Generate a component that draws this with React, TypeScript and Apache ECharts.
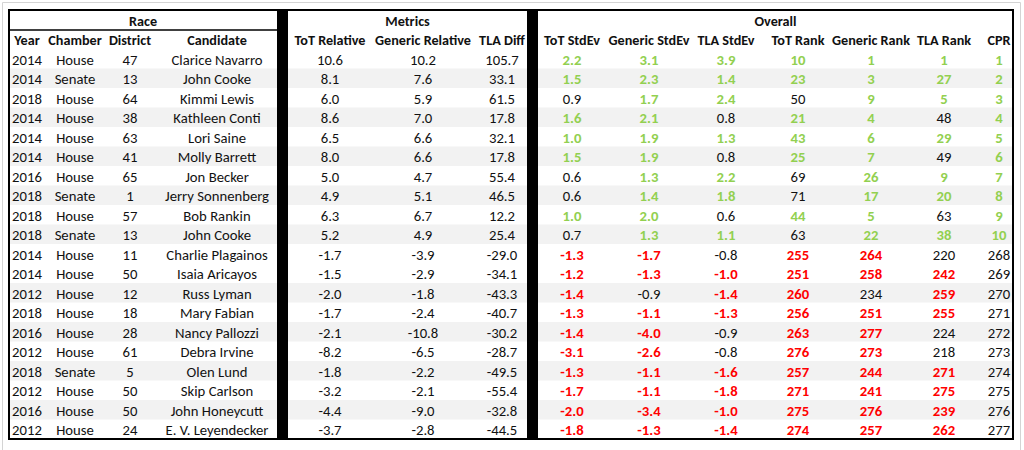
import React, { useEffect, useRef } from "react";
import * as echarts from "echarts";

// ---------- data ----------
const groups = ["Race", "Metrics", "Overall"];
const columns = [
  "Year", "Chamber", "District", "Candidate",
  "ToT Relative", "Generic Relative", "TLA Diff",
  "ToT StdEv", "Generic StdEv", "TLA StdEv", "ToT Rank", "Generic Rank", "TLA Rank", "CPR",
];
const years = [2014, 2014, 2018, 2014, 2014, 2014, 2016, 2018, 2018, 2018, 2014, 2014, 2012, 2018, 2016, 2012, 2018, 2012, 2016, 2012];
const chambers = ["House", "Senate", "House", "House", "House", "House", "House", "Senate", "House", "Senate", "House", "House", "House", "House", "House", "House", "Senate", "House", "House", "House"];
const districts = [47, 13, 64, 38, 63, 41, 65, 1, 57, 13, 11, 50, 12, 18, 28, 61, 5, 50, 50, 24];
const candidates = [
  "Clarice Navarro", "John Cooke", "Kimmi Lewis", "Kathleen Conti", "Lori Saine", "Molly Barrett", "Jon Becker",
  "Jerry Sonnenberg", "Bob Rankin", "John Cooke", "Charlie Plagainos", "Isaia Aricayos", "Russ Lyman", "Mary Fabian",
  "Nancy Pallozzi", "Debra Irvine", "Olen Lund", "Skip Carlson", "John Honeycutt", "E. V. Leyendecker",
];
const totRelative = [10.6, 8.1, 6.0, 8.6, 6.5, 8.0, 5.0, 4.9, 6.3, 5.2, -1.7, -1.5, -2.0, -1.7, -2.1, -8.2, -1.8, -3.2, -4.4, -3.7];
const genericRelative = [10.2, 7.6, 5.9, 7.0, 6.6, 6.6, 4.7, 5.1, 6.7, 4.9, -3.9, -2.9, -1.8, -2.4, -10.8, -6.5, -2.2, -2.1, -9.0, -2.8];
const tlaDiff = [105.7, 33.1, 61.5, 17.8, 32.1, 17.8, 55.4, 46.5, 12.2, 25.4, -29.0, -34.1, -43.3, -40.7, -30.2, -28.7, -49.5, -55.4, -32.8, -44.5];
const totStdev = [2.2, 1.5, 0.9, 1.6, 1.0, 1.5, 0.6, 0.6, 1.0, 0.7, -1.3, -1.2, -1.4, -1.3, -1.4, -3.1, -1.3, -1.7, -2.0, -1.8];
const genericStdev = [3.1, 2.3, 1.7, 2.1, 1.9, 1.9, 1.3, 1.4, 2.0, 1.3, -1.7, -1.3, -0.9, -1.1, -4.0, -2.6, -1.1, -1.1, -3.4, -1.3];
const tlaStdev = [3.9, 1.4, 2.4, 0.8, 1.3, 0.8, 2.2, 1.8, 0.6, 1.1, -0.8, -1.0, -1.4, -1.3, -0.9, -0.8, -1.6, -1.8, -1.0, -1.4];
const totRank = [10, 23, 50, 21, 43, 25, 69, 71, 44, 63, 255, 251, 260, 256, 263, 276, 257, 271, 275, 274];
const genericRank = [1, 3, 9, 4, 6, 7, 26, 17, 5, 22, 264, 258, 234, 251, 277, 273, 244, 241, 276, 257];
const tlaRank = [1, 27, 5, 48, 29, 49, 9, 20, 63, 38, 220, 242, 259, 255, 224, 218, 271, 275, 239, 262];
const cpr = [1, 2, 3, 4, 5, 6, 7, 8, 9, 10, 268, 269, 270, 271, 272, 273, 274, 275, 276, 277];
const shadedRows = [1, 3, 5, 7, 9, 12, 14, 16, 18];

// ---------- layout / style ----------
const FONT = "Carlito, Lato, 'Noto Sans', sans-serif";
const BODY_SIZE = 14.7;
const HEAD_SIZE = 14.2;
const TABLE = { left: 9, top: 10, right: 1013, bottom: 439 };
const GROUP_SPANS = [[9, 277], [288, 527], [538, 1013]];
const BARS = [[277, 288], [527, 538]];
const COL_X = [27, 75, 130, 217, 330, 423, 502, 572, 649, 726, 798, 871, 944, 999];
const GREEN = "#92d050";
const RED = "#ff0000";
const INK = "#111111";
const STRIPE = "#f2f2f2";

type Cell = { x: number; row: number; text: string; color: string; bold: boolean; head: boolean };

function stdevColor(v: number) {
  return v >= 1 ? GREEN : v <= -1 ? RED : INK;
}
function rankColor(v: number) {
  return v <= 46 ? GREEN : v >= 235 ? RED : INK;
}
function cprColor(v: number) {
  return v <= 10 ? GREEN : INK;
}

function buildCells(): Cell[] {
  const cells: Cell[] = [];
  groups.forEach((g, i) => {
    cells.push({ x: (GROUP_SPANS[i][0] + GROUP_SPANS[i][1]) / 2, row: 0, text: g, color: INK, bold: true, head: true });
  });
  columns.forEach((c, i) => {
    cells.push({ x: COL_X[i], row: 1, text: c, color: INK, bold: true, head: true });
  });
  candidates.forEach((name, r) => {
    const row = r + 2;
    const plain = [String(years[r]), chambers[r], String(districts[r]), name,
      totRelative[r].toFixed(1), genericRelative[r].toFixed(1), tlaDiff[r].toFixed(1)];
    plain.forEach((t, i) => cells.push({ x: COL_X[i], row, text: t, color: INK, bold: false, head: false }));
    const colored: [string, string][] = [
      [totStdev[r].toFixed(1), stdevColor(totStdev[r])],
      [genericStdev[r].toFixed(1), stdevColor(genericStdev[r])],
      [tlaStdev[r].toFixed(1), stdevColor(tlaStdev[r])],
      [String(totRank[r]), rankColor(totRank[r])],
      [String(genericRank[r]), rankColor(genericRank[r])],
      [String(tlaRank[r]), rankColor(tlaRank[r])],
      [String(cpr[r]), cprColor(cpr[r])],
    ];
    colored.forEach(([t, col], j) =>
      cells.push({ x: COL_X[7 + j], row, text: t, color: col, bold: col !== INK, head: false })
    );
  });
  return cells;
}

export default function App() {
  const ref = useRef<HTMLDivElement>(null);

  useEffect(() => {
    if (!ref.current) return;
    const chart = echarts.init(ref.current, undefined, { renderer: "svg" });
    const cells = buildCells();
    const rowKeys = ["group", "header", ...candidates.map((_, i) => "r" + i)];

    const option: any = {
      animation: false,
      backgroundColor: "#ffffff",
      grid: {
        left: TABLE.left, top: TABLE.top,
        width: TABLE.right - TABLE.left, height: TABLE.bottom - TABLE.top,
        show: false,
      },
      xAxis: { type: "value", min: TABLE.left, max: TABLE.right, show: false },
      yAxis: { type: "category", data: rowKeys, inverse: true, show: false },
      series: [
        {
          type: "custom",
          name: "stripes",
          z: 1,
          silent: true,
          encode: { x: 0, y: 1 },
          data: shadedRows.map((r) => [TABLE.left, r + 2]),
          renderItem: (params: any, api: any) => {
            const p = api.coord([TABLE.left, api.value(1)]);
            const h = api.size([0, 1])[1];
            return {
              type: "rect",
              shape: { x: TABLE.left + 1, y: p[1] - h / 2, width: TABLE.right - TABLE.left - 2, height: h },
              style: { fill: STRIPE },
            };
          },
        },
        {
          type: "custom",
          name: "cells",
          z: 3,
          silent: true,
          encode: { x: 0, y: 1 },
          data: cells.map((c) => [c.x, c.row]),
          renderItem: (params: any, api: any) => {
            const c = cells[params.dataIndex];
            const p = api.coord([api.value(0), api.value(1)]);
            return {
              type: "text",
              style: {
                text: c.text,
                x: p[0],
                y: p[1] + 1,
                align: "center",
                verticalAlign: "middle",
                fontFamily: FONT,
                fontSize: c.head ? HEAD_SIZE : BODY_SIZE,
                fontWeight: c.bold ? "bold" : "normal",
                fill: c.color,
              },
            };
          },
        },
      ],
      graphic: [
        {
          type: "rect",
          z: 0,
          shape: { x: 2.5, y: 2.5, width: 1018, height: 450 },
          style: { fill: "none", stroke: "#d4d4d4", lineWidth: 1 },
        },
        ...BARS.map(([a, b]) => ({
          type: "rect",
          z: 10,
          shape: { x: a, y: TABLE.top, width: b - a, height: TABLE.bottom - TABLE.top },
          style: { fill: "#000000" },
        })),
        {
          type: "line",
          z: 10,
          shape: { x1: TABLE.left, y1: 30, x2: BARS[0][0], y2: 30 },
          style: { stroke: "#000000", lineWidth: 1.5 },
        },
        {
          type: "rect",
          z: 11,
          shape: { x: TABLE.left, y: TABLE.top, width: TABLE.right - TABLE.left, height: TABLE.bottom - TABLE.top },
          style: { fill: "none", stroke: "#000000", lineWidth: 2 },
        },
      ],
    };
    chart.setOption(option);
    return () => chart.dispose();
  }, []);

  return (
    <div
      ref={ref}
      style={{ position: "fixed", left: 0, top: 0, width: 1024, height: 450, background: "#ffffff" }}
    />
  );
}
